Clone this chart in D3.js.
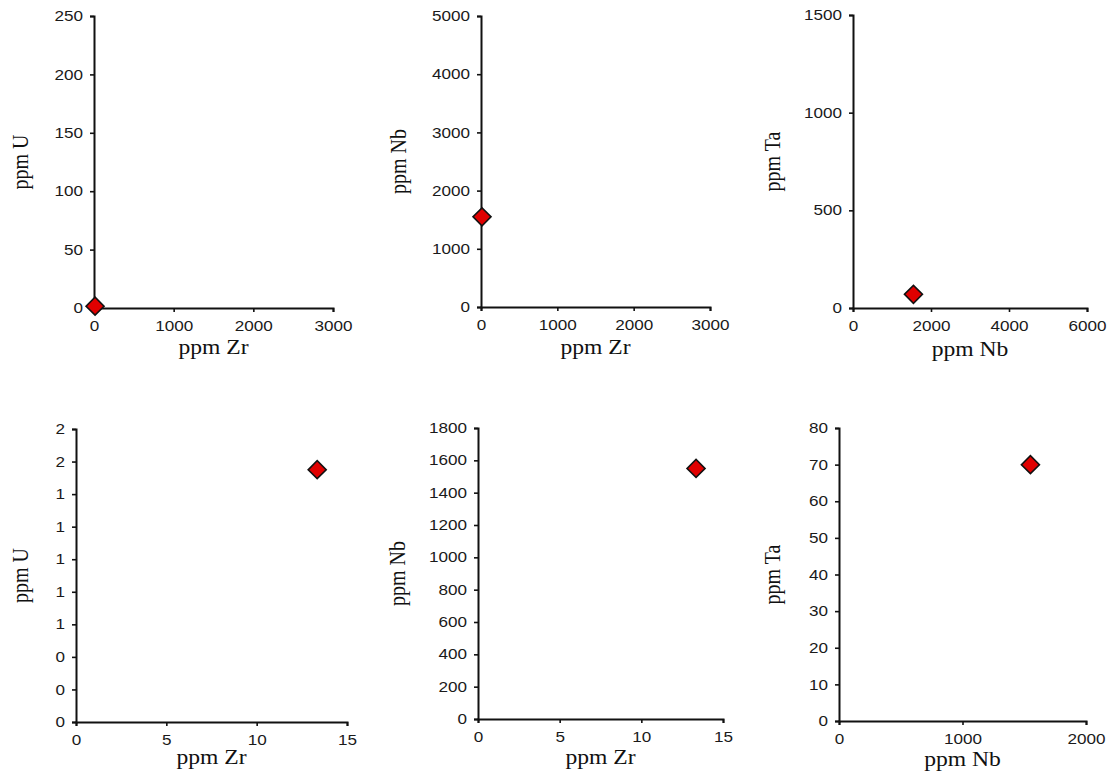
<!DOCTYPE html>
<html>
<head>
<meta charset="utf-8">
<script src="https://cdn.jsdelivr.net/npm/d3@7"></script>
<style>
  html, body { margin: 0; padding: 0; background: #fff; }
  svg { display: block; }
</style>
</head>
<body>
<svg id="chart" width="1113" height="784"></svg>
<script>
// Single sample, concentrations in ppm
const sampleZr = [13.35];
const sampleU  = [1.55];
const sampleNb = [1550];
const sampleTa = [70];

// Tick values per axis
const ticksZrWide = [0, 1000, 2000, 3000];
const ticksNbWide = [0, 2000, 4000, 6000];
const ticksUWide  = [0, 50, 100, 150, 200, 250];
const ticksNbTall = [0, 1000, 2000, 3000, 4000, 5000];
const ticksTaWide = [0, 500, 1000, 1500];
const ticksZrZoom = [0, 5, 10, 15];
const ticksUZoom  = [0, 0.2, 0.4, 0.6, 0.8, 1.0, 1.2, 1.4, 1.6, 1.8];
const ticksNbZoom = [0, 200, 400, 600, 800, 1000, 1200, 1400, 1600, 1800];
const ticksNbMid  = [0, 1000, 2000];
const ticksTaZoom = [0, 10, 20, 30, 40, 50, 60, 70, 80];

const points = sampleZr.map((z, i) => ({ Zr: z, U: sampleU[i], Nb: sampleNb[i], Ta: sampleTa[i] }));

// Panel layout (pixel frame of each plot area)
const panels = [
  { x: "Zr", y: "U",  xt: ticksZrWide, yt: ticksUWide,  xLab: "ppm Zr", yLab: "ppm U",
    l: 94,  r: 333,  t: 16,  b: 308, yTitleX: 28,  xTitleY: 354, fmt: d3.format("d") },
  { x: "Zr", y: "Nb", xt: ticksZrWide, yt: ticksNbTall, xLab: "ppm Zr", yLab: "ppm Nb",
    l: 481, r: 710,  t: 16,  b: 307, yTitleX: 406, xTitleY: 354, fmt: d3.format("d") },
  { x: "Nb", y: "Ta", xt: ticksNbWide, yt: ticksTaWide, xLab: "ppm Nb", yLab: "ppm Ta",
    l: 853, r: 1087, t: 15,  b: 308, yTitleX: 780, xTitleY: 356, fmt: d3.format("d") },
  { x: "Zr", y: "U",  xt: ticksZrZoom, yt: ticksUZoom,  xLab: "ppm Zr", yLab: "ppm U",
    l: 76,  r: 347,  t: 429, b: 722, yTitleX: 28,  xTitleY: 764, fmt: d3.format(".0f") },
  { x: "Zr", y: "Nb", xt: ticksZrZoom, yt: ticksNbZoom, xLab: "ppm Zr", yLab: "ppm Nb",
    l: 478, r: 723,  t: 428, b: 719, yTitleX: 405, xTitleY: 764, fmt: d3.format("d") },
  { x: "Nb", y: "Ta", xt: ticksNbMid,  yt: ticksTaZoom, xLab: "ppm Nb", yLab: "ppm Ta",
    l: 839, r: 1086, t: 428, b: 721, yTitleX: 780, xTitleY: 766, fmt: d3.format("d") }
];

const svg = d3.select("#chart");
const SX = 1.18;           // horizontal widening of all lettering
const tickFont = "Liberation Sans, Arial, sans-serif";
const titleFont = "Liberation Serif, Times New Roman, serif";

// Diamond marker (a square turned 45 degrees)
const diamond = d3.symbol().type(d3.symbolSquare).size(162);

panels.forEach(p => {
  const xs = d3.scaleLinear().domain([p.xt[0], p.xt[p.xt.length - 1]]).range([p.l, p.r]);
  const ys = d3.scaleLinear().domain([p.yt[0], p.yt[p.yt.length - 1]]).range([p.b, p.t]);
  const g = svg.append("g");

  // axes
  const xAxis = d3.axisBottom(xs).tickValues(p.xt).tickSize(4).tickPadding(7).tickFormat(d3.format("d"));
  const yAxis = d3.axisLeft(ys).tickValues(p.yt).tickSize(4).tickPadding(7).tickFormat(p.fmt);

  const gx = g.append("g").attr("transform", `translate(0,${p.b})`).call(xAxis);
  const gy = g.append("g").attr("transform", `translate(${p.l},0)`).call(yAxis);

  [gx, gy].forEach(a => {
    a.select(".domain").attr("stroke", "#111").attr("stroke-width", 2);
    a.selectAll(".tick line").attr("stroke", "#111").attr("stroke-width", 1.6);
    a.selectAll(".tick text")
      .attr("fill", "#1a1a1a")
      .style("font-family", tickFont)
      .style("font-size", "14.5px");
  });
  // widen tick lettering horizontally around its anchor
  gx.selectAll(".tick text").attr("transform", `scale(${SX},1)`);
  gy.selectAll(".tick text").each(function () {
    const t = d3.select(this);
    const x = +t.attr("x");
    t.attr("x", x / SX).attr("transform", `scale(${SX},1)`);
  });
  gx.selectAll(".tick text").attr("dy", "0.85em");

  // axis titles
  g.append("text")
    .attr("transform", `translate(${(p.l + p.r) / 2},${p.xTitleY}) scale(${SX},1)`)
    .attr("text-anchor", "middle")
    .style("font-family", titleFont)
    .style("font-size", "20px")
    .attr("fill", "#111")
    .text(p.xLab);

  g.append("text")
    .attr("transform", `translate(${p.yTitleX},${(p.t + p.b) / 2}) rotate(-90) scale(1,${SX})`)
    .attr("text-anchor", "middle")
    .style("font-family", titleFont)
    .style("font-size", "20px")
    .attr("fill", "#111")
    .text(p.yLab);

  // sample markers
  g.selectAll("path.pt")
    .data(points)
    .join("path")
    .attr("class", "pt")
    .attr("d", diamond)
    .attr("transform", d => `translate(${xs(d[p.x])},${ys(d[p.y])}) rotate(45)`)
    .attr("fill", "#e00000")
    .attr("stroke", "#111")
    .attr("stroke-width", 1.6);
});
</script>
</body>
</html>
